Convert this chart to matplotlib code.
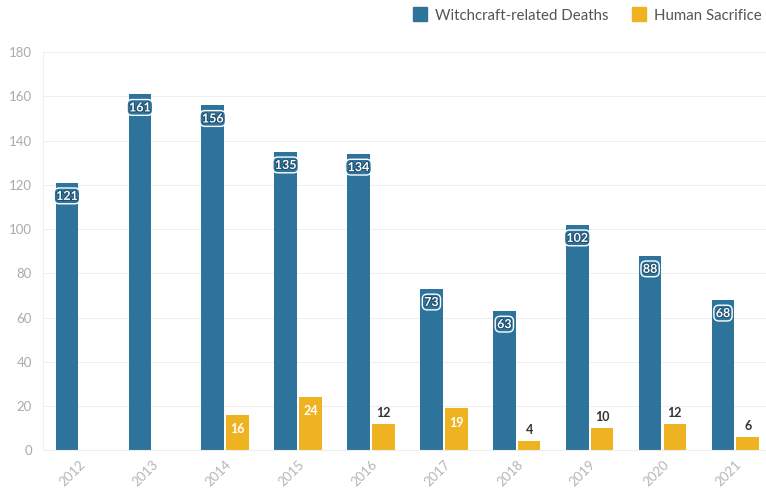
import numpy as np
import matplotlib.pyplot as plt
import matplotlib.patheffects as pe
from matplotlib.lines import Line2D

plt.rcParams['font.family'] = ['Lato', 'DejaVu Sans']

years = ['2012', '2013', '2014', '2015', '2016', '2017', '2018', '2019', '2020', '2021']
witchcraft = [121, 161, 156, 135, 134, 73, 63, 102, 88, 68]
sacrifice = [0, 0, 16, 24, 12, 19, 4, 10, 12, 6]

blue = '#2e739c'
yellow = '#efb322'

fig = plt.figure(figsize=(7.66, 4.92), dpi=100)
ax = fig.add_axes([0.056, 0.085, 0.944, 0.809])

x = np.arange(len(years))
w = 0.31
off = 0.17
ax.bar(x - off, witchcraft, width=w, color=blue, zorder=2)
ax.bar(x + off, sacrifice, width=w, color=yellow, zorder=2)

# labels inside the blue bars, near the top
for i, v in enumerate(witchcraft):
    ax.text(x[i] - off, v - 6, str(v), ha='center', va='center', color='white',
            fontsize=9, fontweight='bold', zorder=3,
            bbox=dict(boxstyle='round,pad=0.15,rounding_size=0.4', fc=blue, ec='white', lw=1.0),
            path_effects=[pe.withStroke(linewidth=1.5, foreground='#1d4f6e')])

for i, v in enumerate(sacrifice):
    if v == 0:
        continue
    if v >= 15:
        ax.text(x[i] + off, v - 6.5, str(v), ha='center', va='center', color='white',
                fontsize=9, fontweight='bold', zorder=3)
    else:
        ax.text(x[i] + off, v + 5, str(v), ha='center', va='center', color='#333333',
                fontsize=9, fontweight='bold', zorder=3)

ax.set_xlim(-0.5, 9.42)
ax.set_ylim(0, 180)
ax.set_yticks(np.arange(0, 181, 20))
ax.set_xticks(x)
ax.set_xticklabels(years, rotation=45, ha='right', rotation_mode='anchor')
ax.tick_params(axis='both', colors='#bbbbbb', labelcolor='#aaaaaa', labelsize=9.5, length=0, pad=8)
ax.tick_params(axis='x', labelcolor='#b5b5b5', pad=6)
ax.grid(axis='y', color='#eeeeee', lw=0.8, zorder=0)
for s in ['top', 'right']:
    ax.spines[s].set_visible(False)
ax.spines['left'].set_color('#eeeeee')
ax.spines['bottom'].set_color('#eeeeee')

handles = [Line2D([], [], marker='s', ls='none', ms=10, color=blue, mec=blue),
           Line2D([], [], marker='s', ls='none', ms=10, color=yellow, mec=yellow)]
fig.legend(handles, ['Witchcraft-related Deaths', 'Human Sacrifice'], loc='upper right',
           bbox_to_anchor=(1.012, 1.01), ncol=2, frameon=False, fontsize=10.8,
           handletextpad=0.0, columnspacing=1.0, labelcolor='#555555')

fig.savefig('out.png', dpi=100)
